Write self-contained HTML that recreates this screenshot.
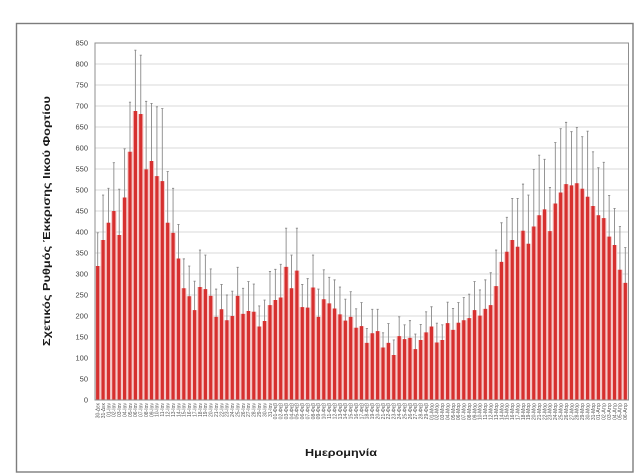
<!DOCTYPE html>
<html>
<head>
<meta charset="utf-8">
<style>
html,body{margin:0;padding:0;background:#fff;}
svg{display:block;}
text{font-family:"Liberation Sans","DejaVu Sans",sans-serif;}
</style>
</head>
<body>
<svg width="643" height="475" viewBox="0 0 643 475" xmlns="http://www.w3.org/2000/svg">
<rect x="0" y="0" width="643" height="475" fill="#fff"/>
<rect x="16.5" y="23.5" width="616.5" height="448.5" fill="none" stroke="#7d7d7d" stroke-width="1.4"/>

<g stroke="#dadada" stroke-width="0.9">
<line x1="95" x2="628" y1="379" y2="379"/>
<line x1="95" x2="628" y1="358" y2="358"/>
<line x1="95" x2="628" y1="337" y2="337"/>
<line x1="95" x2="628" y1="316" y2="316"/>
<line x1="95" x2="628" y1="295" y2="295"/>
<line x1="95" x2="628" y1="274" y2="274"/>
<line x1="95" x2="628" y1="253" y2="253"/>
<line x1="95" x2="628" y1="232" y2="232"/>
<line x1="95" x2="628" y1="211" y2="211"/>
<line x1="95" x2="628" y1="190" y2="190"/>
<line x1="95" x2="628" y1="169" y2="169"/>
<line x1="95" x2="628" y1="148" y2="148"/>
<line x1="95" x2="628" y1="127" y2="127"/>
<line x1="95" x2="628" y1="106" y2="106"/>
<line x1="95" x2="628" y1="85" y2="85"/>
<line x1="95" x2="628" y1="64" y2="64"/>
</g>

<g transform="translate(95,400) scale(5.3838,-0.42)">
<path fill="#f6c9c9" d="M0,0V319h1V0zM1,0V381h1V0zM2,0V422h1V0zM3,0V450h1V0zM4,0V393h1V0zM5,0V482h1V0zM6,0V591h1V0zM7,0V688h1V0zM8,0V681h1V0zM9,0V549h1V0zM10,0V569h1V0zM11,0V533h1V0zM12,0V521h1V0zM13,0V422h1V0zM14,0V398h1V0zM15,0V337h1V0zM16,0V266h1V0zM17,0V247h1V0zM18,0V214h1V0zM19,0V269h1V0zM20,0V264h1V0zM21,0V248h1V0zM22,0V198h1V0zM23,0V216h1V0zM24,0V190h1V0zM25,0V200h1V0zM26,0V248h1V0zM27,0V205h1V0zM28,0V212h1V0zM29,0V210h1V0zM30,0V175h1V0zM31,0V188h1V0zM32,0V226h1V0zM33,0V238h1V0zM34,0V244h1V0zM35,0V317h1V0zM36,0V266h1V0zM37,0V308h1V0zM38,0V221h1V0zM39,0V220h1V0zM40,0V268h1V0zM41,0V198h1V0zM42,0V240h1V0zM43,0V230h1V0zM44,0V218h1V0zM45,0V204h1V0zM46,0V189h1V0zM47,0V198h1V0zM48,0V172h1V0zM49,0V176h1V0zM50,0V136h1V0zM51,0V159h1V0zM52,0V164h1V0zM53,0V125h1V0zM54,0V136h1V0zM55,0V107h1V0zM56,0V152h1V0zM57,0V145h1V0zM58,0V148h1V0zM59,0V121h1V0zM60,0V143h1V0zM61,0V161h1V0zM62,0V175h1V0zM63,0V137h1V0zM64,0V143h1V0zM65,0V183h1V0zM66,0V167h1V0zM67,0V184h1V0zM68,0V190h1V0zM69,0V195h1V0zM70,0V214h1V0zM71,0V201h1V0zM72,0V217h1V0zM73,0V226h1V0zM74,0V271h1V0zM75,0V329h1V0zM76,0V353h1V0zM77,0V381h1V0zM78,0V365h1V0zM79,0V403h1V0zM80,0V372h1V0zM81,0V413h1V0zM82,0V440h1V0zM83,0V454h1V0zM84,0V402h1V0zM85,0V468h1V0zM86,0V494h1V0zM87,0V514h1V0zM88,0V511h1V0zM89,0V516h1V0zM90,0V503h1V0zM91,0V484h1V0zM92,0V462h1V0zM93,0V440h1V0zM94,0V433h1V0zM95,0V389h1V0zM96,0V369h1V0zM97,0V310h1V0zM98,0V279h1V0z"/>
<path fill="none" stroke="#8a8a8a" stroke-width="0.9" vector-effect="non-scaling-stroke" d="M0.5,240V398M0.3,398h.4M0.3,240h.4M1.5,274V488M1.3,488h.4M1.3,274h.4M2.5,340V504M2.3,504h.4M2.3,340h.4M3.5,335V565M3.3,565h.4M3.3,335h.4M4.5,284V502M4.3,502h.4M4.3,284h.4M5.5,366V598M5.3,598h.4M5.3,366h.4M6.5,473V709M6.3,709h.4M6.3,473h.4M7.5,543V833M7.3,833h.4M7.3,543h.4M8.5,541V821M8.3,821h.4M8.3,541h.4M9.5,387V711M9.3,711h.4M9.3,387h.4M10.5,432V706M10.3,706h.4M10.3,432h.4M11.5,368V698M11.3,698h.4M11.3,368h.4M12.5,348V694M12.3,694h.4M12.3,348h.4M13.5,300V544M13.3,544h.4M13.3,300h.4M14.5,292V504M14.3,504h.4M14.3,292h.4M15.5,256V418M15.3,418h.4M15.3,256h.4M16.5,196V336M16.3,336h.4M16.3,196h.4M17.5,175V319M17.3,319h.4M17.3,175h.4M18.5,145V283M18.3,283h.4M18.3,145h.4M19.5,181V357M19.3,357h.4M19.3,181h.4M20.5,183V345M20.3,345h.4M20.3,183h.4M21.5,184V312M21.3,312h.4M21.3,184h.4M22.5,132V264M22.3,264h.4M22.3,132h.4M23.5,157V275M23.3,275h.4M23.3,157h.4M24.5,130V250M24.3,250h.4M24.3,130h.4M25.5,141V259M25.3,259h.4M25.3,141h.4M26.5,180V316M26.3,316h.4M26.3,180h.4M27.5,144V266M27.3,266h.4M27.3,144h.4M28.5,142V282M28.3,282h.4M28.3,142h.4M29.5,144V276M29.3,276h.4M29.3,144h.4M30.5,126V224M30.3,224h.4M30.3,126h.4M31.5,138V238M31.3,238h.4M31.3,138h.4M32.5,146V306M32.3,306h.4M32.3,146h.4M33.5,165V311M33.3,311h.4M33.3,165h.4M34.5,165V323M34.3,323h.4M34.3,165h.4M35.5,225V409M35.3,409h.4M35.3,225h.4M36.5,187V345M36.3,345h.4M36.3,187h.4M37.5,207V409M37.3,409h.4M37.3,207h.4M38.5,167V275M38.3,275h.4M38.3,167h.4M39.5,151V289M39.3,289h.4M39.3,151h.4M40.5,191V345M40.3,345h.4M40.3,191h.4M41.5,132V264M41.3,264h.4M41.3,132h.4M42.5,170V310M42.3,310h.4M42.3,170h.4M43.5,168V292M43.3,292h.4M43.3,168h.4M44.5,150V286M44.3,286h.4M44.3,150h.4M45.5,139V269M45.3,269h.4M45.3,139h.4M46.5,138V240M46.3,240h.4M46.3,138h.4M47.5,138V258M47.3,258h.4M47.3,138h.4M48.5,127V217M48.3,217h.4M48.3,127h.4M49.5,120V232M49.3,232h.4M49.3,120h.4M50.5,102V170M50.3,170h.4M50.3,102h.4M51.5,102V216M51.3,216h.4M51.3,102h.4M52.5,112V216M52.3,216h.4M52.3,112h.4M53.5,90V160M53.3,160h.4M53.3,90h.4M54.5,90V182M54.3,182h.4M54.3,90h.4M55.5,71V143M55.3,143h.4M55.3,71h.4M56.5,106V198M56.3,198h.4M56.3,106h.4M57.5,111V179M57.3,179h.4M57.3,111h.4M58.5,107V189M58.3,189h.4M58.3,107h.4M59.5,85V157M59.3,157h.4M59.3,85h.4M60.5,106V180M60.3,180h.4M60.3,106h.4M61.5,112V210M61.3,210h.4M61.3,112h.4M62.5,128V222M62.3,222h.4M62.3,128h.4M63.5,91V183M63.3,183h.4M63.3,91h.4M64.5,107V179M64.3,179h.4M64.3,107h.4M65.5,133V233M65.3,233h.4M65.3,133h.4M66.5,116V218M66.3,218h.4M66.3,116h.4M67.5,136V232M67.3,232h.4M67.3,136h.4M68.5,136V244M68.3,244h.4M68.3,136h.4M69.5,138V252M69.3,252h.4M69.3,138h.4M70.5,146V282M70.3,282h.4M70.3,146h.4M71.5,140V262M71.3,262h.4M71.3,140h.4M72.5,148V286M72.3,286h.4M72.3,148h.4M73.5,149V303M73.3,303h.4M73.3,149h.4M74.5,185V357M74.3,357h.4M74.3,185h.4M75.5,236V422M75.3,422h.4M75.3,236h.4M76.5,271V435M76.3,435h.4M76.3,271h.4M77.5,282V480M77.3,480h.4M77.3,282h.4M78.5,250V480M78.3,480h.4M78.3,250h.4M79.5,292V514M79.3,514h.4M79.3,292h.4M80.5,256V488M80.3,488h.4M80.3,256h.4M81.5,277V549M81.3,549h.4M81.3,277h.4M82.5,297V583M82.3,583h.4M82.3,297h.4M83.5,335V573M83.3,573h.4M83.3,335h.4M84.5,298V506M84.3,506h.4M84.3,298h.4M85.5,323V613M85.3,613h.4M85.3,323h.4M86.5,342V646M86.3,646h.4M86.3,342h.4M87.5,367V661M87.3,661h.4M87.3,367h.4M88.5,383V639M88.3,639h.4M88.3,383h.4M89.5,383V649M89.3,649h.4M89.3,383h.4M90.5,379V627M90.3,627h.4M90.3,379h.4M91.5,328V640M91.3,640h.4M91.3,328h.4M92.5,333V591M92.3,591h.4M92.3,333h.4M93.5,327V553M93.3,553h.4M93.3,327h.4M94.5,300V566M94.3,566h.4M94.3,300h.4M95.5,291V487M95.3,487h.4M95.3,291h.4M96.5,282V456M96.3,456h.4M96.3,282h.4M97.5,207V413M97.3,413h.4M97.3,207h.4M98.5,195V363M98.3,363h.4M98.3,195h.4"/>
<path fill="#d6302f" d="M0.2,0V319h.6V0zM1.2,0V381h.6V0zM2.2,0V422h.6V0zM3.2,0V450h.6V0zM4.2,0V393h.6V0zM5.2,0V482h.6V0zM6.2,0V591h.6V0zM7.2,0V688h.6V0zM8.2,0V681h.6V0zM9.2,0V549h.6V0zM10.2,0V569h.6V0zM11.2,0V533h.6V0zM12.2,0V521h.6V0zM13.2,0V422h.6V0zM14.2,0V398h.6V0zM15.2,0V337h.6V0zM16.2,0V266h.6V0zM17.2,0V247h.6V0zM18.2,0V214h.6V0zM19.2,0V269h.6V0zM20.2,0V264h.6V0zM21.2,0V248h.6V0zM22.2,0V198h.6V0zM23.2,0V216h.6V0zM24.2,0V190h.6V0zM25.2,0V200h.6V0zM26.2,0V248h.6V0zM27.2,0V205h.6V0zM28.2,0V212h.6V0zM29.2,0V210h.6V0zM30.2,0V175h.6V0zM31.2,0V188h.6V0zM32.2,0V226h.6V0zM33.2,0V238h.6V0zM34.2,0V244h.6V0zM35.2,0V317h.6V0zM36.2,0V266h.6V0zM37.2,0V308h.6V0zM38.2,0V221h.6V0zM39.2,0V220h.6V0zM40.2,0V268h.6V0zM41.2,0V198h.6V0zM42.2,0V240h.6V0zM43.2,0V230h.6V0zM44.2,0V218h.6V0zM45.2,0V204h.6V0zM46.2,0V189h.6V0zM47.2,0V198h.6V0zM48.2,0V172h.6V0zM49.2,0V176h.6V0zM50.2,0V136h.6V0zM51.2,0V159h.6V0zM52.2,0V164h.6V0zM53.2,0V125h.6V0zM54.2,0V136h.6V0zM55.2,0V107h.6V0zM56.2,0V152h.6V0zM57.2,0V145h.6V0zM58.2,0V148h.6V0zM59.2,0V121h.6V0zM60.2,0V143h.6V0zM61.2,0V161h.6V0zM62.2,0V175h.6V0zM63.2,0V137h.6V0zM64.2,0V143h.6V0zM65.2,0V183h.6V0zM66.2,0V167h.6V0zM67.2,0V184h.6V0zM68.2,0V190h.6V0zM69.2,0V195h.6V0zM70.2,0V214h.6V0zM71.2,0V201h.6V0zM72.2,0V217h.6V0zM73.2,0V226h.6V0zM74.2,0V271h.6V0zM75.2,0V329h.6V0zM76.2,0V353h.6V0zM77.2,0V381h.6V0zM78.2,0V365h.6V0zM79.2,0V403h.6V0zM80.2,0V372h.6V0zM81.2,0V413h.6V0zM82.2,0V440h.6V0zM83.2,0V454h.6V0zM84.2,0V402h.6V0zM85.2,0V468h.6V0zM86.2,0V494h.6V0zM87.2,0V514h.6V0zM88.2,0V511h.6V0zM89.2,0V516h.6V0zM90.2,0V503h.6V0zM91.2,0V484h.6V0zM92.2,0V462h.6V0zM93.2,0V440h.6V0zM94.2,0V433h.6V0zM95.2,0V389h.6V0zM96.2,0V369h.6V0zM97.2,0V310h.6V0zM98.2,0V279h.6V0z"/>
</g>

<rect x="95" y="43" width="533.5" height="357" fill="none" stroke="#8f8f8f" stroke-width="1"/>

<g font-size="7.5" fill="#404040" text-anchor="end">
<text x="88" y="402.7">0</text>
<text x="88" y="381.7">50</text>
<text x="88" y="360.7">100</text>
<text x="88" y="339.7">150</text>
<text x="88" y="318.7">200</text>
<text x="88" y="297.7">250</text>
<text x="88" y="276.7">300</text>
<text x="88" y="255.7">350</text>
<text x="88" y="234.7">400</text>
<text x="88" y="213.7">450</text>
<text x="88" y="192.7">500</text>
<text x="88" y="171.7">550</text>
<text x="88" y="150.7">600</text>
<text x="88" y="129.7">650</text>
<text x="88" y="108.7">700</text>
<text x="88" y="87.7">750</text>
<text x="88" y="66.7">800</text>
<text x="88" y="45.7">850</text>
</g>

<text transform="translate(50,221) rotate(-90)" text-anchor="middle" font-size="10.5" font-weight="bold" fill="#1a1a1a" textLength="250" lengthAdjust="spacingAndGlyphs">Σχετικός Ρυθμός Έκκρισης Ιικού Φορτίου</text>
<text x="341" y="456" text-anchor="middle" font-size="10.5" font-weight="bold" fill="#1a1a1a" textLength="72" lengthAdjust="spacingAndGlyphs">Ημερομηνία</text>

<g transform="rotate(-90)" font-size="5" fill="#555" text-anchor="end">
<text x="-403" y="99.5">30-Δεκ</text>
<text x="-403" y="104.9">31-Δεκ</text>
<text x="-403" y="110.3">01-Ιαν</text>
<text x="-403" y="115.7">02-Ιαν</text>
<text x="-403" y="121.0">03-Ιαν</text>
<text x="-403" y="126.4">04-Ιαν</text>
<text x="-403" y="131.8">05-Ιαν</text>
<text x="-403" y="137.2">06-Ιαν</text>
<text x="-403" y="142.6">07-Ιαν</text>
<text x="-403" y="148.0">08-Ιαν</text>
<text x="-403" y="153.3">09-Ιαν</text>
<text x="-403" y="158.7">10-Ιαν</text>
<text x="-403" y="164.1">11-Ιαν</text>
<text x="-403" y="169.5">12-Ιαν</text>
<text x="-403" y="174.9">13-Ιαν</text>
<text x="-403" y="180.3">14-Ιαν</text>
<text x="-403" y="185.6">15-Ιαν</text>
<text x="-403" y="191.0">16-Ιαν</text>
<text x="-403" y="196.4">17-Ιαν</text>
<text x="-403" y="201.8">18-Ιαν</text>
<text x="-403" y="207.2">19-Ιαν</text>
<text x="-403" y="212.6">20-Ιαν</text>
<text x="-403" y="217.9">21-Ιαν</text>
<text x="-403" y="223.3">22-Ιαν</text>
<text x="-403" y="228.7">23-Ιαν</text>
<text x="-403" y="234.1">24-Ιαν</text>
<text x="-403" y="239.5">25-Ιαν</text>
<text x="-403" y="244.9">26-Ιαν</text>
<text x="-403" y="250.2">27-Ιαν</text>
<text x="-403" y="255.6">28-Ιαν</text>
<text x="-403" y="261.0">29-Ιαν</text>
<text x="-403" y="266.4">30-Ιαν</text>
<text x="-403" y="271.8">31-Ιαν</text>
<text x="-403" y="277.2">01-Φεβ</text>
<text x="-403" y="282.5">02-Φεβ</text>
<text x="-403" y="287.9">03-Φεβ</text>
<text x="-403" y="293.3">04-Φεβ</text>
<text x="-403" y="298.7">05-Φεβ</text>
<text x="-403" y="304.1">06-Φεβ</text>
<text x="-403" y="309.5">07-Φεβ</text>
<text x="-403" y="314.9">08-Φεβ</text>
<text x="-403" y="320.2">09-Φεβ</text>
<text x="-403" y="325.6">10-Φεβ</text>
<text x="-403" y="331.0">11-Φεβ</text>
<text x="-403" y="336.4">12-Φεβ</text>
<text x="-403" y="341.8">13-Φεβ</text>
<text x="-403" y="347.2">14-Φεβ</text>
<text x="-403" y="352.5">15-Φεβ</text>
<text x="-403" y="357.9">16-Φεβ</text>
<text x="-403" y="363.3">17-Φεβ</text>
<text x="-403" y="368.7">18-Φεβ</text>
<text x="-403" y="374.1">19-Φεβ</text>
<text x="-403" y="379.5">20-Φεβ</text>
<text x="-403" y="384.8">21-Φεβ</text>
<text x="-403" y="390.2">22-Φεβ</text>
<text x="-403" y="395.6">23-Φεβ</text>
<text x="-403" y="401.0">24-Φεβ</text>
<text x="-403" y="406.4">25-Φεβ</text>
<text x="-403" y="411.8">26-Φεβ</text>
<text x="-403" y="417.1">27-Φεβ</text>
<text x="-403" y="422.5">28-Φεβ</text>
<text x="-403" y="427.9">29-Φεβ</text>
<text x="-403" y="433.3">01-Μαρ</text>
<text x="-403" y="438.7">02-Μαρ</text>
<text x="-403" y="444.1">03-Μαρ</text>
<text x="-403" y="449.4">04-Μαρ</text>
<text x="-403" y="454.8">05-Μαρ</text>
<text x="-403" y="460.2">06-Μαρ</text>
<text x="-403" y="465.6">07-Μαρ</text>
<text x="-403" y="471.0">08-Μαρ</text>
<text x="-403" y="476.4">09-Μαρ</text>
<text x="-403" y="481.7">10-Μαρ</text>
<text x="-403" y="487.1">11-Μαρ</text>
<text x="-403" y="492.5">12-Μαρ</text>
<text x="-403" y="497.9">13-Μαρ</text>
<text x="-403" y="503.3">14-Μαρ</text>
<text x="-403" y="508.7">15-Μαρ</text>
<text x="-403" y="514.1">16-Μαρ</text>
<text x="-403" y="519.4">17-Μαρ</text>
<text x="-403" y="524.8">18-Μαρ</text>
<text x="-403" y="530.2">19-Μαρ</text>
<text x="-403" y="535.6">20-Μαρ</text>
<text x="-403" y="541.0">21-Μαρ</text>
<text x="-403" y="546.4">22-Μαρ</text>
<text x="-403" y="551.7">23-Μαρ</text>
<text x="-403" y="557.1">24-Μαρ</text>
<text x="-403" y="562.5">25-Μαρ</text>
<text x="-403" y="567.9">26-Μαρ</text>
<text x="-403" y="573.3">27-Μαρ</text>
<text x="-403" y="578.7">28-Μαρ</text>
<text x="-403" y="584.0">29-Μαρ</text>
<text x="-403" y="589.4">30-Μαρ</text>
<text x="-403" y="594.8">31-Μαρ</text>
<text x="-403" y="600.2">01-Απρ</text>
<text x="-403" y="605.6">02-Απρ</text>
<text x="-403" y="611.0">03-Απρ</text>
<text x="-403" y="616.3">04-Απρ</text>
<text x="-403" y="621.7">05-Απρ</text>
<text x="-403" y="627.1">06-Απρ</text>
</g>
</svg>
</body>
</html>
